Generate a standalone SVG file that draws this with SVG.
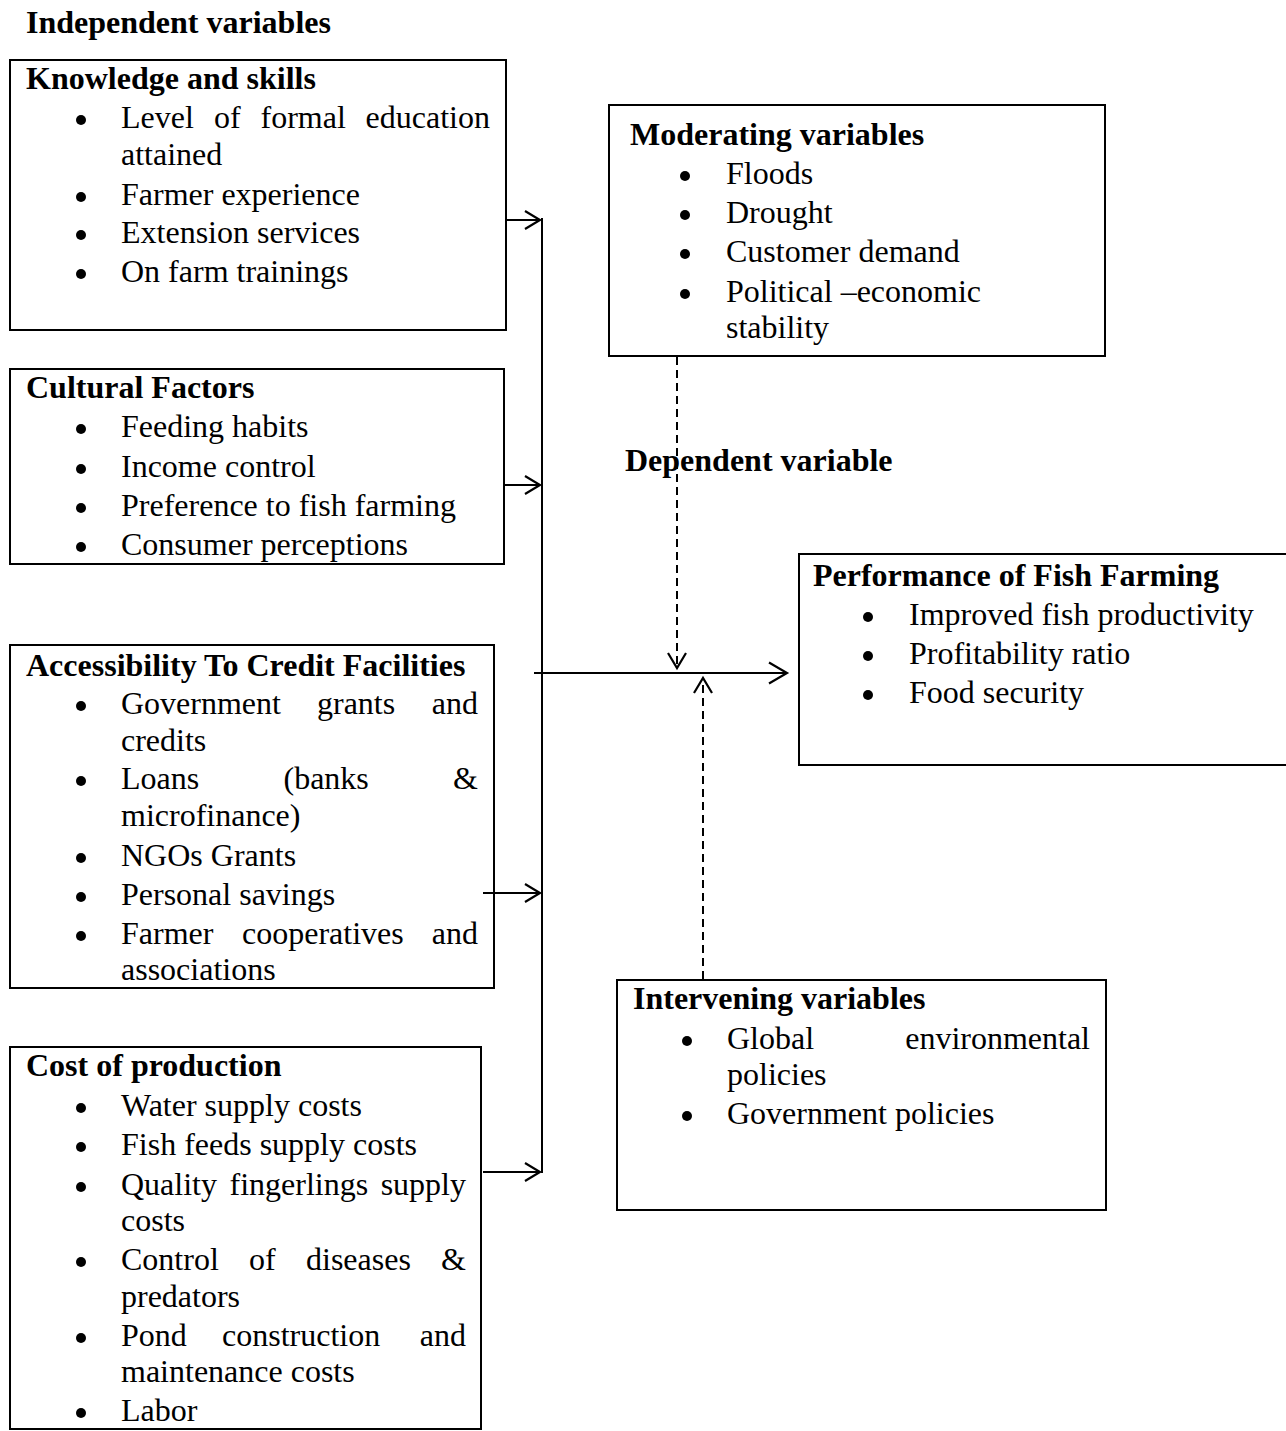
<svg xmlns="http://www.w3.org/2000/svg" width="1286" height="1431" viewBox="0 0 1286 1431">
<defs>
<style>
text{font-family:"Liberation Serif","Times New Roman",serif;font-size:32px;fill:#000}
.h{font-weight:bold}
.box{fill:none;stroke:#000;stroke-width:2}
.b{fill:#000}
.ln{stroke:#000;stroke-width:2;fill:none}
.dash{stroke:#000;stroke-width:2;fill:none;stroke-dasharray:8,5}
</style>
<marker id="arr" markerUnits="userSpaceOnUse" markerWidth="24" markerHeight="24" refX="20" refY="12" orient="auto" viewBox="0 0 24 24">
<path d="M2,1.5 L20,12 L2,22.5" fill="none" stroke="#000" stroke-width="2.2"/>
</marker>
<marker id="arrs" markerUnits="userSpaceOnUse" markerWidth="20" markerHeight="20" refX="17" refY="10" orient="auto" viewBox="0 0 20 20">
<path d="M2,1 L17,10 L2,19" fill="none" stroke="#000" stroke-width="2.2"/>
</marker>
</defs>
<rect width="1286" height="1431" fill="#fff"/>

<text id="title-independent" class="h" x="26" y="33">Independent variables</text>

<g id="knowledge">
<rect class="box" x="10" y="60" width="496" height="270"/>
<text class="h" x="26" y="89">Knowledge and skills</text>
<circle class="b" cx="81" cy="120" r="5"/>
<text y="128"><tspan x="121">Level</tspan><tspan x="214">of</tspan><tspan x="260.5">formal</tspan><tspan x="490" text-anchor="end">education</tspan></text>
<text x="121" y="165">attained</text>
<circle class="b" cx="81" cy="197" r="5"/>
<text x="121" y="205">Farmer experience</text>
<circle class="b" cx="81" cy="235" r="5"/>
<text x="121" y="243">Extension services</text>
<circle class="b" cx="81" cy="274" r="5"/>
<text x="121" y="282">On farm trainings</text>
</g>

<g id="cultural">
<rect class="box" x="10" y="369" width="494" height="195"/>
<text class="h" x="26" y="398">Cultural Factors</text>
<circle class="b" cx="81" cy="429" r="5"/>
<text x="121" y="437">Feeding habits</text>
<circle class="b" cx="81" cy="469" r="5"/>
<text x="121" y="477">Income control</text>
<circle class="b" cx="81" cy="508" r="5"/>
<text x="121" y="516">Preference to fish farming</text>
<circle class="b" cx="81" cy="547" r="5"/>
<text x="121" y="555">Consumer perceptions</text>
</g>

<g id="credit">
<rect class="box" x="10" y="645" width="484" height="343"/>
<text class="h" x="26" y="676">Accessibility To Credit Facilities</text>
<circle class="b" cx="81" cy="706" r="5"/>
<text y="714"><tspan x="121">Government</tspan><tspan x="317">grants</tspan><tspan x="478" text-anchor="end">and</tspan></text>
<text x="121" y="751">credits</text>
<circle class="b" cx="81" cy="781" r="5"/>
<text y="789"><tspan x="121">Loans</tspan><tspan x="283.5">(banks</tspan><tspan x="478" text-anchor="end">&amp;</tspan></text>
<text x="121" y="826">microfinance)</text>
<circle class="b" cx="81" cy="858" r="5"/>
<text x="121" y="866">NGOs Grants</text>
<circle class="b" cx="81" cy="897" r="5"/>
<text x="121" y="905">Personal savings</text>
<circle class="b" cx="81" cy="936" r="5"/>
<text y="944"><tspan x="121">Farmer</tspan><tspan x="242">cooperatives</tspan><tspan x="478" text-anchor="end">and</tspan></text>
<text x="121" y="980">associations</text>
</g>

<g id="cost">
<rect class="box" x="10" y="1047" width="471" height="382"/>
<text class="h" x="26" y="1076">Cost of production</text>
<circle class="b" cx="81" cy="1108" r="5"/>
<text x="121" y="1116">Water supply costs</text>
<circle class="b" cx="81" cy="1147" r="5"/>
<text x="121" y="1155">Fish feeds supply costs</text>
<circle class="b" cx="81" cy="1187" r="5"/>
<text y="1195"><tspan x="121">Quality</tspan><tspan x="229.5">fingerlings</tspan><tspan x="466" text-anchor="end">supply</tspan></text>
<text x="121" y="1231">costs</text>
<circle class="b" cx="81" cy="1262" r="5"/>
<text y="1270"><tspan x="121">Control</tspan><tspan x="249">of</tspan><tspan x="306">diseases</tspan><tspan x="466" text-anchor="end">&amp;</tspan></text>
<text x="121" y="1307">predators</text>
<circle class="b" cx="81" cy="1338" r="5"/>
<text y="1346"><tspan x="121">Pond</tspan><tspan x="222">construction</tspan><tspan x="466" text-anchor="end">and</tspan></text>
<text x="121" y="1382">maintenance costs</text>
<circle class="b" cx="81" cy="1413" r="5"/>
<text x="121" y="1421">Labor</text>
</g>

<g id="moderating">
<rect class="box" x="609" y="105" width="496" height="251"/>
<text class="h" x="630" y="145">Moderating variables</text>
<circle class="b" cx="685" cy="176" r="5"/>
<text x="726" y="184">Floods</text>
<circle class="b" cx="685" cy="215" r="5"/>
<text x="726" y="223">Drought</text>
<circle class="b" cx="685" cy="254" r="5"/>
<text x="726" y="262">Customer demand</text>
<circle class="b" cx="685" cy="294" r="5"/>
<text x="726" y="302">Political –economic</text>
<text x="726" y="338">stability</text>
</g>

<text id="title-dependent" class="h" x="625" y="471">Dependent variable</text>

<g id="performance">
<rect class="box" x="799" y="554" width="500" height="211"/>
<text class="h" x="813" y="586">Performance of Fish Farming</text>
<circle class="b" cx="868" cy="617" r="5"/>
<text x="909" y="625">Improved fish productivity</text>
<circle class="b" cx="868" cy="656" r="5"/>
<text x="909" y="664">Profitability ratio</text>
<circle class="b" cx="868" cy="695" r="5"/>
<text x="909" y="703">Food security</text>
</g>

<g id="intervening">
<rect class="box" x="617" y="980" width="489" height="230"/>
<text class="h" x="633" y="1009">Intervening variables</text>
<circle class="b" cx="687" cy="1041" r="5"/>
<text y="1049"><tspan x="727">Global</tspan><tspan x="1090" text-anchor="end">environmental</tspan></text>
<text x="727" y="1085">policies</text>
<circle class="b" cx="687" cy="1116" r="5"/>
<text x="727" y="1124">Government policies</text>
</g>

<g id="connectors">
<line class="ln" x1="542" y1="218" x2="542" y2="1173"/>
<line class="ln" x1="506" y1="220" x2="540" y2="220" marker-end="url(#arrs)"/>
<line class="ln" x1="504" y1="485" x2="540" y2="485" marker-end="url(#arrs)"/>
<line class="ln" x1="483" y1="893" x2="540" y2="893" marker-end="url(#arrs)"/>
<line class="ln" x1="483" y1="1172" x2="540" y2="1172" marker-end="url(#arrs)"/>
<line class="ln" x1="534" y1="673" x2="787" y2="673" marker-end="url(#arr)"/>
<line class="dash" x1="677" y1="357" x2="677" y2="668" marker-end="url(#arrs)"/>
<line class="dash" x1="703" y1="979" x2="703" y2="678" marker-end="url(#arrs)"/>
</g>
</svg>
